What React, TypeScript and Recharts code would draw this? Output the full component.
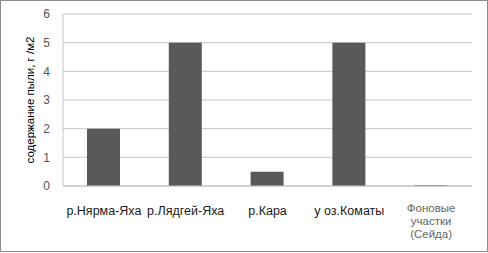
import React from 'react';
import { BarChart, Bar, XAxis, YAxis, CartesianGrid } from 'recharts';

const categories = ['р.Нярма-Яха', 'р.Лядгей-Яха', 'р.Кара', 'у оз.Коматы', 'Фоновые\nучастки\n(Сейда)'];
const dustValues = [2, 5, 0.5, 5, 0.03];
const yTicks = [0, 1, 2, 3, 4, 5, 6];
const yLabel = 'содержание пыли, г /м2';

const data = categories.map((c, i) => ({ name: c, value: dustValues[i] }));

const XTick = (props: any) => {
  const { x, y, payload } = props;
  const lines = String(payload.value).split('\n');
  const multi = lines.length > 1;
  return (
    <text
      x={x}
      y={y}
      textAnchor="middle"
      fontFamily="Liberation Sans, Arial, sans-serif"
      fontSize={multi ? 11.5 : 12.5}
      fill={multi ? '#666' : '#1a1a1a'}
    >
      {lines.map((l, i) => (
        <tspan key={i} x={x} dy={i === 0 ? (multi ? 24 : 27) : 13}>
          {l}
        </tspan>
      ))}
    </text>
  );
};

const YLabel = (props: any) => {
  const vb = props.viewBox || {};
  const cy = vb.y + vb.height / 2;
  const cx = 30;
  return (
    <text
      x={cx}
      y={cy}
      transform={`rotate(-90 ${cx} ${cy})`}
      textAnchor="middle"
      dominantBaseline="central"
      fontFamily="Liberation Sans, Arial, sans-serif"
      fontSize={11.5}
      fill="#000"
    >
      {yLabel}
    </text>
  );
};

export default function App() {
  return (
    <div
      style={{
        position: 'absolute',
        left: 0,
        top: 0,
        width: 488,
        height: 253,
        background: '#fff',
      }}
    >
      <div
        style={{
          position: 'absolute',
          left: 0,
          top: 0,
          width: 486,
          height: 250,
          border: '1px solid #8a8a8a',
          pointerEvents: 'none',
          zIndex: 2,
        }}
      />
      <BarChart
        width={488}
        height={253}
        data={data}
        margin={{ top: 14, right: 16, bottom: 37, left: 0 }}
      >
        <CartesianGrid stroke="#c4c4c4" vertical={false} />
        <XAxis
          dataKey="name"
          interval={0}
          height={30}
          tickLine={false}
          tickSize={0}
          axisLine={{ stroke: '#c4c4c4' }}
          tick={<XTick />}
        />
        <YAxis
          width={63}
          domain={[0, 6]}
          ticks={yTicks}
          tickLine={false}
          tickSize={0}
          tickMargin={13}
          axisLine={{ stroke: '#c4c4c4' }}
          tick={{ fontSize: 12, fill: '#555', fontFamily: 'Liberation Sans, Arial, sans-serif' }}
          label={<YLabel />}
        />
        <Bar dataKey="value" fill="#595959" barSize={33} isAnimationActive={false} />
      </BarChart>
    </div>
  );
}
